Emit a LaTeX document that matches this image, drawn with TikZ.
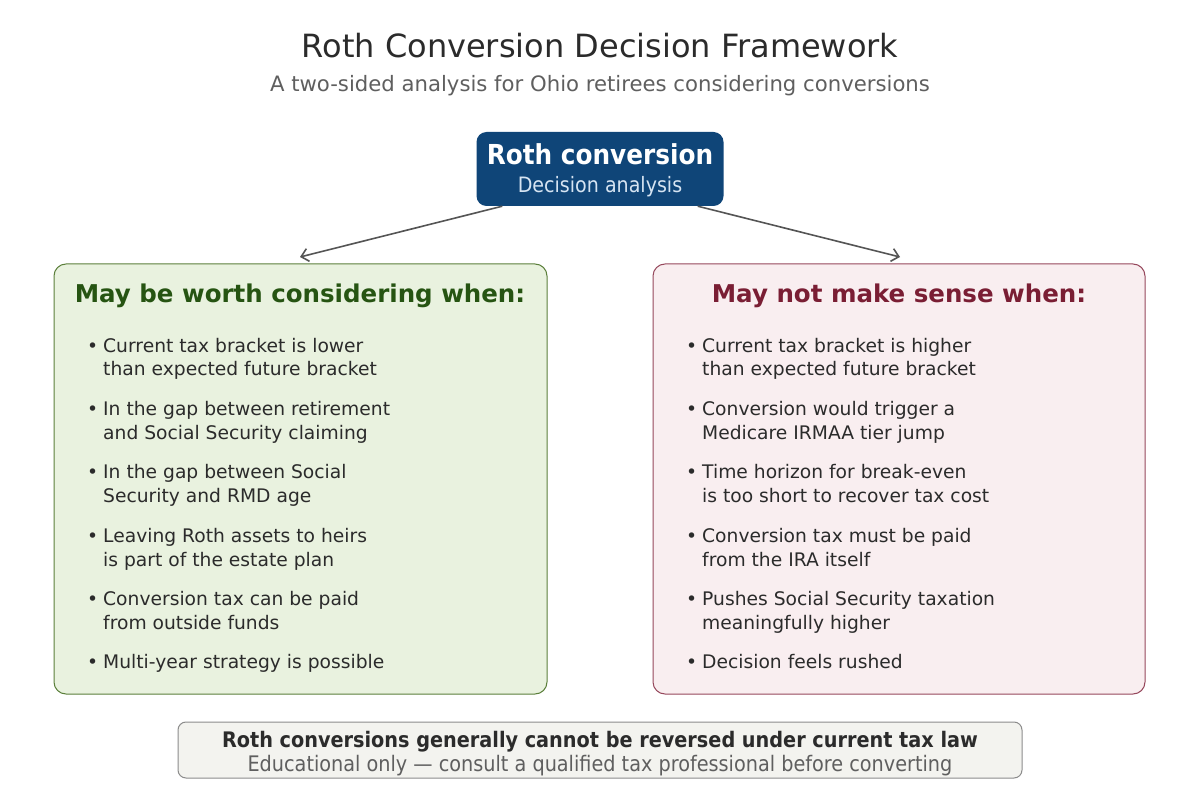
\documentclass[tikz,border=0pt]{standalone}
\usepackage{fontspec}
\setmainfont{DejaVu Sans}
\newfontfamily\condfont{DejaVu Sans Condensed}
\usetikzlibrary{arrows.meta}
\definecolor{topblue}{RGB}{15,69,120}
\definecolor{toplight}{RGB}{214,228,242}
\definecolor{proFill}{RGB}{233,242,223}
\definecolor{proLine}{RGB}{92,128,60}
\definecolor{proHead}{RGB}{38,84,18}
\definecolor{conFill}{RGB}{249,238,240}
\definecolor{conLine}{RGB}{150,72,92}
\definecolor{conHead}{RGB}{122,30,52}
\definecolor{inkdark}{RGB}{43,43,43}
\definecolor{inkgray}{RGB}{95,95,95}
\definecolor{noteFill}{RGB}{243,243,239}
\definecolor{noteLine}{RGB}{140,140,140}
\definecolor{arrowgray}{RGB}{85,85,85}
\begin{document}
\begin{tikzpicture}[x=1pt, y=-1pt, >={Straight Barb[length=7pt,width=13pt]},
      panel/.style={draw, line width=1pt, rounded corners=12pt},
      pro/.style={panel, fill=proFill, draw=proLine},
      con/.style={panel, fill=conFill, draw=conLine},
      head/.style={font=\fontsize{24.5}{28}\selectfont\bfseries, inner sep=0pt},
      item/.style={anchor=base west, align=left, inner sep=0pt, text=inkdark,
        font=\fontsize{18.7}{24}\selectfont},
      link/.style={->, draw=arrowgray, line width=1.6pt}]
    \useasboundingbox[fill=white] (0,0) rectangle (1200,810);
    \node[font=\fontsize{32}{36}\selectfont, text=inkdark] (title) at (600,46) {Roth Conversion Decision Framework};
    \node[font=\fontsize{21.2}{24}\selectfont, text=inkgray] (subtitle) at (600,86) {A two-sided analysis for Ohio retirees considering conversions};
    \node[fill=topblue, rounded corners=10pt, minimum width=247pt, minimum height=74pt, align=center,
      font=\condfont\fontsize{27.5}{28}\selectfont] (roth) at (600,169)
      {\bfseries\color{white}\rule{0pt}{24pt}Roth conversion\\
       \fontsize{21.2}{24}\selectfont\color{toplight}Decision analysis};
    \node[pro, minimum width=493pt, minimum height=430pt] (yes) at (300.5,479) {};
    \node[con, minimum width=492pt, minimum height=430pt] (no) at (899,479) {};
    \coordinate (yestip) at (300,257);
    \coordinate (notip) at (900,257);
    \draw[link] (roth.south west) ++(26,0) -- (yestip);
    \draw[link] (roth.south east) ++(-26,0) -- (notip);
    \node[head, text=proHead] (yeshead) at (300,296) {May be worth considering when:};
    \node[head, text=conHead] (nohead) at (899,296) {May not make sense when:};
    \node[item] (y1) at (87,376) {\makebox[16pt][l]{•}Current tax bracket is lower\\\hspace*{16pt}than expected future bracket};
    \node[item] (y2) at (87,439) {\makebox[16pt][l]{•}In the gap between retirement\\\hspace*{16pt}and Social Security claiming};
    \node[item] (y3) at (87,502) {\makebox[16pt][l]{•}In the gap between Social\\\hspace*{16pt}Security and RMD age};
    \node[item] (y4) at (87,566) {\makebox[16pt][l]{•}Leaving Roth assets to heirs\\\hspace*{16pt}is part of the estate plan};
    \node[item] (y5) at (87,629) {\makebox[16pt][l]{•}Conversion tax can be paid\\\hspace*{16pt}from outside funds};
    \node[item] (y6) at (87,668) {\makebox[16pt][l]{•}Multi-year strategy is possible};
    \node[item] (n1) at (686,376) {\makebox[16pt][l]{•}Current tax bracket is higher\\\hspace*{16pt}than expected future bracket};
    \node[item] (n2) at (686,439) {\makebox[16pt][l]{•}Conversion would trigger a\\\hspace*{16pt}Medicare IRMAA tier jump};
    \node[item] (n3) at (686,502) {\makebox[16pt][l]{•}Time horizon for break-even\\\hspace*{16pt}is too short to recover tax cost};
    \node[item] (n4) at (686,566) {\makebox[16pt][l]{•}Conversion tax must be paid\\\hspace*{16pt}from the IRA itself};
    \node[item] (n5) at (686,629) {\makebox[16pt][l]{•}Pushes Social Security taxation\\\hspace*{16pt}meaningfully higher};
    \node[item] (n6) at (686,668) {\makebox[16pt][l]{•}Decision feels rushed};
    \node[draw=noteLine, fill=noteFill, line width=1pt, rounded corners=8pt, minimum width=844pt, minimum height=56pt, align=center,
      inner ysep=1pt, font=\condfont\fontsize{21.4}{24}\selectfont] (note) at (600,750)
      {\bfseries\color{inkdark}\rule{0pt}{23pt}Roth conversions generally cannot be reversed under current tax law\\
       \color{inkgray}Educational only — consult a qualified tax professional before converting};
  \end{tikzpicture}
\end{document}
